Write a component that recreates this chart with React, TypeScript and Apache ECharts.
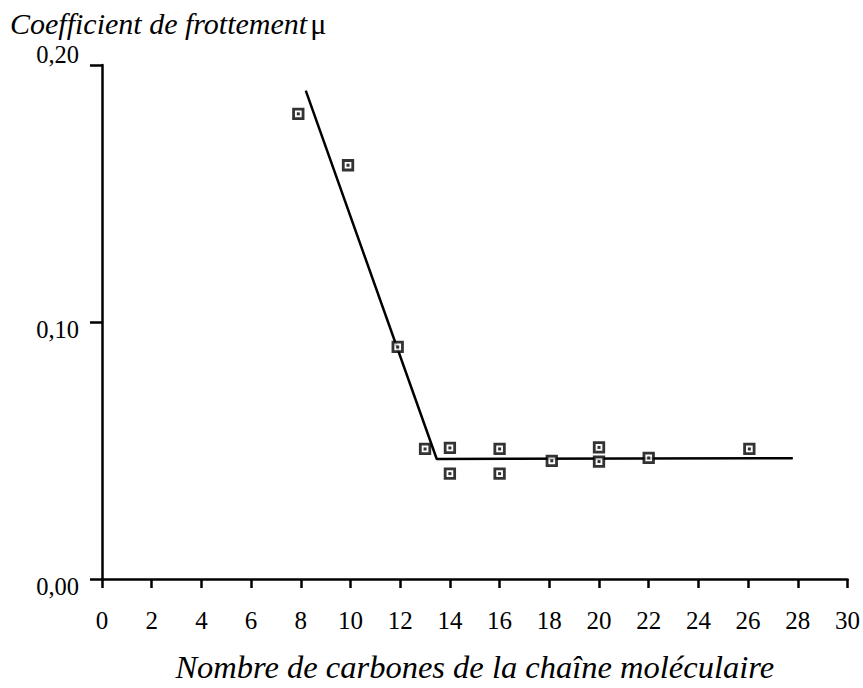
import React, { useEffect, useRef } from "react";
import * as echarts from "echarts";

const xTicks = [0, 2, 4, 6, 8, 10, 12, 14, 16, 18, 20, 22, 24, 26, 28, 30];
const yTickLabels = ["0,00", "0,10", "0,20"];

const pointsX = [7.9, 9.9, 11.9, 13.0, 14.0, 14.0, 16.0, 16.0, 18.1, 20.0, 20.0, 22.0, 26.05];
const pointsY = [0.181, 0.161, 0.0903, 0.0506, 0.051, 0.041, 0.0506, 0.041, 0.046, 0.0512, 0.0457, 0.0471, 0.0506];

const fitX = [8.2, 13.47, 27.8];
const fitY = [0.19, 0.0467, 0.047];

const FONT = "Liberation Serif";

export default function App() {
  const ref = useRef<HTMLDivElement>(null);
  useEffect(() => {
    if (!ref.current) return;
    const chart = echarts.init(ref.current, null, { renderer: "svg" });
    const pts = pointsX.map((x, i) => [x, pointsY[i]]);
    const fit = fitX.map((x, i) => [x, fitY[i]]);
    chart.setOption({
      animation: false,
      backgroundColor: "#ffffff",
      textStyle: { fontFamily: FONT },
      grid: { left: 102, right: 15, top: 65, bottom: 105, containLabel: false },
      graphic: [
        {
          type: "text",
          left: 10,
          top: 8,
          style: {
            text: "{i|Coefficient de frottement} {m|μ}",
            rich: {
              i: { fontFamily: FONT, fontStyle: "italic", fontSize: 30, lineHeight: 30, fill: "#000" },
              m: { fontFamily: FONT, fontSize: 30, lineHeight: 30, fill: "#000" },
            },
            fontFamily: FONT,
            lineHeight: 30,
            fill: "#000",
          },
        },
      ],
      xAxis: {
        type: "value",
        min: 0,
        max: 30,
        interval: 2,
        name: "Nombre de carbones de la chaîne moléculaire",
        nameLocation: "middle",
        nameGap: 71,
        nameTextStyle: { fontFamily: FONT, fontStyle: "italic", fontSize: 32.5, color: "#000" },
        axisLine: { show: true, onZero: false, lineStyle: { color: "#000", width: 2.5 } },
        axisTick: { show: true, inside: false, length: 9, lineStyle: { color: "#000", width: 2.5 } },
        axisLabel: {
          margin: 29,
          fontFamily: FONT,
          fontSize: 25,
          color: "#000",
          formatter: (v: number) => (xTicks.includes(v) ? String(v) : ""),
        },
        splitLine: { show: false },
      },
      yAxis: {
        type: "value",
        min: 0,
        max: 0.2,
        interval: 0.1,
        axisLine: { show: true, onZero: false, lineStyle: { color: "#000", width: 2.5 } },
        axisTick: { show: true, inside: false, length: 12, lineStyle: { color: "#000", width: 2.5 } },
        axisLabel: {
          margin: 23,
          fontFamily: FONT,
          fontSize: 24.5,
          color: "#000",
          formatter: (v: number) => {
            const i = Math.round(v * 10);
            const t = yTickLabels[i] ?? "";
            return i === 2 ? "{up|" + t + "}" : "{dn|" + t + "}";
          },
          rich: {
            up: { fontFamily: FONT, fontSize: 24.5, lineHeight: 24, color: "#000", padding: [0, 0, 22, 0] },
            dn: { fontFamily: FONT, fontSize: 24.5, color: "#000", padding: [15, 0, 0, 0] },
          },
        },
        splitLine: { show: false },
      },
      series: [
        {
          type: "line",
          data: fit,
          symbol: "none",
          lineStyle: { color: "#000", width: 2.5 },
          z: 2,
        },
        {
          type: "scatter",
          data: pts,
          symbol: "rect",
          symbolSize: 9.5,
          itemStyle: { color: "#fff", borderColor: "#000", borderWidth: 2.8 },
          z: 3,
        },
        {
          type: "scatter",
          data: pts,
          symbol: "rect",
          symbolSize: 3,
          itemStyle: { color: "#000" },
          z: 4,
        },
      ],
    });
    return () => chart.dispose();
  }, []);
  return (
    <div
      ref={ref}
      style={{ position: "fixed", left: 0, top: 0, width: 863, height: 688, background: "#fff" }}
    />
  );
}
